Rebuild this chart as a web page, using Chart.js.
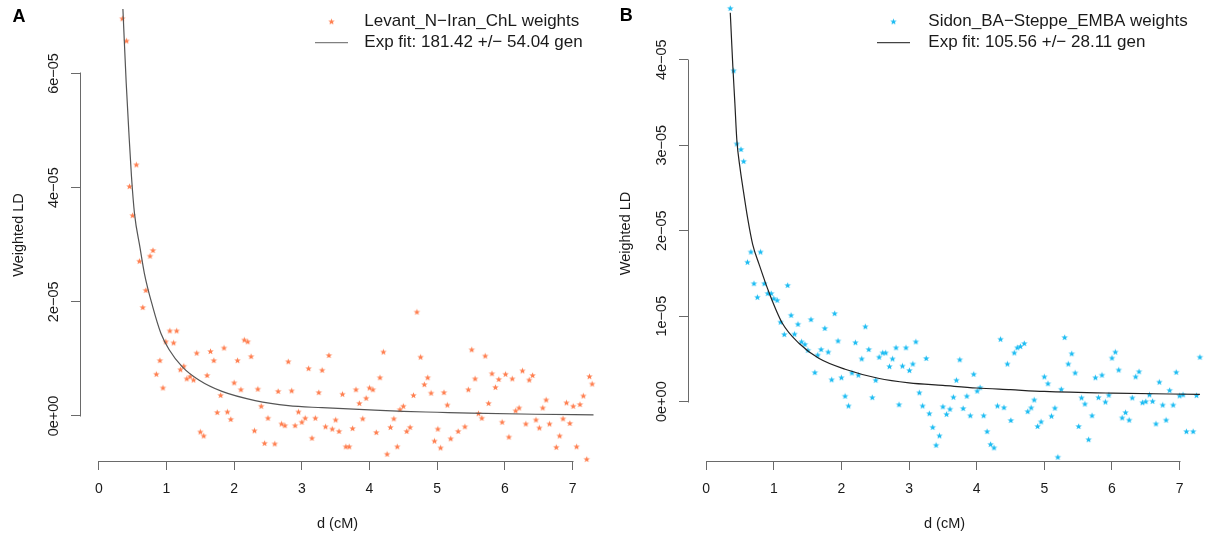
<!DOCTYPE html>
<html><head><meta charset="utf-8">
<script src="https://cdn.jsdelivr.net/npm/chart.js@4.4.1/dist/chart.umd.min.js"></script>
<style>
html,body{margin:0;padding:0;background:#fff;}
#wrap{position:relative;width:1206px;height:537px;overflow:hidden;background:#fff;}
canvas{position:absolute;top:0;}
#cA{left:0;} #cB{left:600px;}
</style></head><body>
<div id="wrap"><canvas id="cA" width="600" height="537"></canvas><canvas id="cB" width="606" height="537"></canvas></div>
<script>
const FONT = "'Liberation Sans', Arial, Helvetica, sans-serif";

// ---- shared axis ticks ----
const xTicks = [0, 1, 2, 3, 4, 5, 6, 7];
const xTitle = 'd (cM)';
const yTitle = 'Weighted LD';

// ---- Panel A (values of weighted LD in units of 1e-05) ----
const yTicksA = [0, 2, 4, 6];
const yTickLabelsA = ['0e+00', '2e\u221205', '4e\u221205', '6e\u221205'];
const legendA = ['Levant_N\u2212Iran_ChL weights', 'Exp fit: 181.42 +/\u2212 54.04 gen'];
const xA = [0.348,0.41,0.555,0.454,0.499,0.60,0.80,0.757,0.695,0.65,
  1.05,1.15,0.99,1.105,0.903,0.85,0.948,1.256,1.206,1.30,
  1.35,1.40,1.447,1.50,1.55,1.60,1.65,1.70,1.75,1.80,
  1.85,1.90,1.95,2.00,2.05,2.10,2.15,2.20,2.25,2.30,
  2.35,2.40,2.45,2.50,2.60,2.65,2.70,2.75,2.80,2.85,
  2.90,2.95,3.00,3.05,3.10,3.15,3.20,3.25,3.30,3.35,
  3.40,3.45,3.50,3.55,3.60,3.65,3.70,3.75,3.80,3.85,
  3.90,3.95,4.00,4.05,4.10,4.155,4.205,4.26,4.31,4.36,
  4.41,4.45,4.50,4.55,4.60,4.65,4.70,4.755,4.81,4.86,
  4.91,4.96,5.01,5.05,5.10,5.15,5.20,5.31,5.41,5.46,
  5.51,5.56,5.61,5.66,5.71,5.76,5.81,5.86,5.91,5.96,
  6.01,6.06,6.11,6.16,6.21,6.26,6.31,6.36,6.41,6.46,
  6.51,6.56,6.61,6.66,6.76,6.81,6.86,6.91,6.96,7.01,
  7.06,7.11,7.16,7.21,7.25,7.29];
const yA = [6.96,6.57,4.40,4.02,3.51,2.71,2.90,2.80,2.20,1.90,
  1.49,1.49,1.30,1.28,0.97,0.73,0.49,0.87,0.81,0.65,
  0.69,0.63,1.10,-0.28,-0.35,0.71,1.13,0.97,0.06,0.36,
  1.19,0.07,-0.06,0.58,0.97,0.46,1.33,1.30,1.04,-0.26,
  0.47,0.17,-0.48,-0.04,-0.49,0.43,-0.14,-0.17,0.95,0.44,
  -0.17,0.07,-0.11,-0.04,0.83,-0.39,-0.04,0.41,0.80,-0.19,
  1.06,-0.23,-0.07,-0.27,0.38,-0.54,-0.54,-0.22,0.46,0.22,
  -0.05,0.31,0.49,0.46,-0.29,0.67,1.12,-0.67,-0.20,-0.05,
  -0.54,0.11,0.17,-0.27,-0.20,0.36,1.82,1.03,0.55,0.67,
  0.40,-0.44,-0.23,-0.56,0.41,0.19,-0.40,-0.27,-0.19,0.46,
  1.16,0.65,0.04,-0.04,1.05,0.22,0.74,0.50,0.64,-0.11,
  0.73,-0.37,0.65,0.09,0.14,0.79,-0.14,0.63,0.71,-0.07,
  -0.21,0.14,0.28,-0.14,-0.55,-0.35,-0.05,0.23,-0.13,0.17,
  -0.54,0.20,0.35,-0.76,0.69,0.56];
const fitXA = [0.356,0.376,0.405,0.444,0.483,0.527,0.61,0.673,0.795,0.917,1.04,1.234,1.478,1.82,2.31,2.80,3.3,4.0,4.5,5.0,5.5,6.45,7.31];
const fitYA = [7.13,6.59,5.83,4.97,4.19,3.55,2.94,2.50,1.92,1.45,1.16,0.86,0.63,0.43,0.27,0.18,0.145,0.105,0.08,0.065,0.05,0.03,0.02];

// ---- Panel B ----
const yTicksB = [0, 1, 2, 3, 4];
const yTickLabelsB = ['0e+00', '1e\u221205', '2e\u221205', '3e\u221205', '4e\u221205'];
const legendB = ['Sidon_BA\u2212Steppe_EMBA weights', 'Exp fit: 105.56 +/\u2212 28.11 gen'];
const xB = [0.357,0.407,0.453,0.515,0.555,0.611,0.662,0.804,0.707,0.86,
  0.758,0.911,0.962,1.00,1.05,1.205,1.10,1.256,1.155,1.307,
  1.358,1.41,1.46,1.505,1.55,1.607,1.65,1.70,1.755,1.805,
  1.856,1.90,1.95,2.00,2.054,2.105,2.156,2.207,2.25,2.30,
  2.354,2.405,2.456,2.507,2.558,2.61,2.654,2.71,2.756,2.807,
  2.852,2.903,2.954,3.005,3.056,3.10,3.152,3.20,3.254,3.30,
  3.35,3.40,3.45,3.50,3.554,3.605,3.656,3.70,3.75,3.80,
  3.854,3.905,3.956,4.007,4.05,4.103,4.154,4.205,4.256,4.307,
  4.352,4.403,4.454,4.505,4.556,4.60,4.646,4.703,4.754,4.805,
  4.85,4.90,4.952,5.00,5.054,5.105,5.156,5.20,5.25,5.30,
  5.354,5.405,5.456,5.507,5.55,5.60,5.654,5.705,5.755,5.80,
  5.852,5.903,5.954,6.00,6.05,6.10,6.15,6.20,6.254,6.30,
  6.35,6.40,6.45,6.50,6.554,6.60,6.65,6.70,6.75,6.80,
  6.853,6.904,6.95,7.00,7.05,7.10,7.20,7.25,7.30];
const yB = [4.60,3.87,3.015,2.95,2.81,1.63,1.75,1.75,1.38,1.38,
  1.22,1.265,1.265,1.205,1.185,1.36,0.93,1.01,0.785,0.79,
  0.905,0.70,0.67,0.60,0.96,0.34,0.545,0.61,0.857,0.58,
  0.256,1.03,0.71,0.28,0.064,-0.05,0.336,0.69,0.31,0.50,
  0.877,0.61,0.048,0.25,0.52,0.57,0.57,0.41,0.50,0.63,
  -0.036,0.416,0.63,0.364,0.44,0.70,0.104,-0.05,0.505,-0.14,
  -0.30,-0.51,-0.40,-0.06,-0.148,-0.088,0.052,0.25,0.49,-0.08,
  0.064,-0.164,0.32,0.124,0.164,-0.164,-0.35,-0.50,-0.54,-0.05,
  0.73,-0.07,0.44,-0.22,0.57,0.63,0.645,0.68,-0.116,-0.072,
  0.02,-0.29,-0.236,0.29,0.21,-0.17,-0.076,-0.65,0.144,0.75,
  0.44,0.56,0.336,-0.29,0.044,-0.028,-0.444,-0.164,0.28,0.048,
  0.31,-0.004,0.076,0.51,0.58,0.37,-0.19,-0.128,-0.216,0.044,
  0.29,0.35,-0.012,0.0,0.08,0.004,-0.26,0.228,-0.04,-0.216,
  0.132,-0.04,0.344,0.068,0.08,-0.35,-0.35,0.072,0.52];
const fitXB = [0.357,0.376,0.395,0.425,0.454,0.50,0.542,0.615,0.688,0.786,0.933,1.127,1.372,1.665,2.055,2.543,3.0,3.5,4.0,4.5,5.0,6.0,7.3];
const fitYB = [4.55,4.23,3.92,3.49,3.06,2.74,2.51,2.14,1.84,1.60,1.27,0.917,0.683,0.507,0.379,0.274,0.22,0.19,0.16,0.14,0.12,0.10,0.085];

// ---- star marker (R pch="*") ----
function makeStar(color) {
  const c = document.createElement('canvas');
  c.width = 9; c.height = 9;
  const g = c.getContext('2d');
  g.fillStyle = color;
  g.beginPath();
  for (let i = 0; i < 10; i++) {
    const r = i % 2 === 0 ? 3.4 : 1.45;
    const a = -Math.PI / 2 + i * Math.PI / 5;
    const px = 4.5 + r * Math.cos(a), py = 4.6 + r * Math.sin(a);
    if (i === 0) g.moveTo(px, py); else g.lineTo(px, py);
  }
  g.closePath(); g.fill();
  return c;
}

const rAxesPlugin = {
  id: 'rAxes',
  afterDraw(chart, args, o) {
    const {ctx, chartArea, scales: {x, y}} = chart;
    ctx.save();
    ctx.strokeStyle = o.axisColor; ctx.lineWidth = 1;
    // x axis line from first to last tick (R style)
    const yb = Math.round(chartArea.bottom - 0.5) + 0.5;
    ctx.beginPath();
    ctx.moveTo(Math.round(x.getPixelForValue(o.xTicks[0])) + 0.5 - 0.5, yb);
    ctx.lineTo(Math.round(x.getPixelForValue(o.xTicks[o.xTicks.length - 1])) + 0.5, yb);
    ctx.stroke();
    // y axis line
    const xl = Math.round(chartArea.left - 0.5) + 0.5;
    ctx.beginPath();
    ctx.moveTo(xl, Math.round(y.getPixelForValue(o.yTicks[0])) + 0.5);
    ctx.lineTo(xl, Math.round(y.getPixelForValue(o.yTicks[o.yTicks.length - 1])) - 0.5);
    ctx.stroke();
    // rotated y tick labels
    ctx.fillStyle = o.textColor;
    ctx.font = o.tickFont;
    ctx.textAlign = 'center'; ctx.textBaseline = 'middle';
    o.yTicks.forEach((v, i) => {
      ctx.save();
      ctx.translate(chartArea.left - o.yLabelOffset, y.getPixelForValue(v));
      ctx.rotate(-Math.PI / 2);
      ctx.fillText(o.yTickLabels[i], 0, 0);
      ctx.restore();
    });
    // panel letter
    ctx.font = o.letterFont;
    ctx.fillStyle = '#000';
    ctx.fillText(o.letter, o.letterPos[0], o.letterPos[1]);
    // legend
    const L = o.legend;
    ctx.font = L.font; ctx.textAlign = 'left'; ctx.fillStyle = o.textColor;
    ctx.drawImage(L.marker, L.symX - L.marker.width / 2, L.rows[0] - L.marker.height / 2);
    ctx.strokeStyle = L.lineColor; ctx.lineWidth = 1.2;
    ctx.beginPath(); ctx.moveTo(L.symX - L.lineHalf, L.rows[1]); ctx.lineTo(L.symX + L.lineHalf, L.rows[1]); ctx.stroke();
    L.texts.forEach((t, i) => ctx.fillText(t, L.textX, L.rows[i]));
    ctx.restore();
  }
};

function buildChart(canvasId, cfg) {
  const star = makeStar(cfg.pointColor);
  const points = cfg.xs.map((v, i) => ({x: v, y: cfg.ys[i]}));
  const fit = cfg.fitX.map((v, i) => ({x: v, y: cfg.fitY[i]}));
  return new Chart(document.getElementById(canvasId), {
    type: 'scatter',
    data: {
      datasets: [
        {label: cfg.legend[1], data: fit, showLine: true, pointRadius: 0, borderColor: cfg.lineColor,
         borderWidth: 1.2, cubicInterpolationMode: 'monotone', fill: false},
        {label: cfg.legend[0], data: points, pointStyle: star, pointRadius: 4, clip: false, showLine: false}
      ]
    },
    options: {
      responsive: false, animation: false, events: [],
      layout: {padding: {left: 0, right: 0, top: cfg.top, bottom: 0}},
      plugins: {
        legend: {display: false}, tooltip: {enabled: false},
        rAxes: {
          axisColor: '#6a6a6a', textColor: '#1a1a1a',
          xTicks: xTicks, yTicks: cfg.yTicks, yTickLabels: cfg.yTickLabels,
          tickFont: '14.5px ' + FONT, yLabelOffset: 25.7,
          letter: cfg.letter, letterPos: cfg.letterPos, letterFont: 'bold 18px ' + FONT,
          legend: {font: '17px ' + FONT, marker: star, symX: cfg.legSymX, lineHalf: 16.5,
                   rows: [21.7, 42.7], textX: cfg.legTextX, texts: cfg.legend, lineColor: cfg.legLineColor}
        }
      },
      scales: {
        x: {
          type: 'linear', position: 'bottom', min: cfg.xmin, max: cfg.xmax,
          afterBuildTicks: s => { s.ticks = xTicks.map(v => ({value: v})); },
          afterFit: s => { s.height = 76; },
          border: {display: false},
          grid: {drawOnChartArea: false, drawTicks: true, tickLength: 9, color: '#6a6a6a', lineWidth: 1},
          ticks: {font: {family: FONT, size: 14}, color: '#1a1a1a', padding: 10.8, maxRotation: 0,
                  callback: v => String(v)},
          title: {display: true, text: xTitle, font: {family: FONT, size: 14.5}, color: '#1a1a1a',
                  padding: {top: 0, bottom: 4.3}}
        },
        y: {
          type: 'linear', position: 'left', min: cfg.ymin, max: cfg.ymax,
          afterBuildTicks: s => { s.ticks = cfg.yTicks.map(v => ({value: v})); },
          afterFit: s => { s.width = cfg.yAxisWidth; },
          border: {display: false},
          grid: {drawOnChartArea: false, drawTicks: true, tickLength: 9, color: '#6a6a6a', lineWidth: 1},
          ticks: {display: false},
          title: {display: true, text: yTitle, font: {family: FONT, size: 14.5}, color: '#1a1a1a',
                  padding: {top: cfg.yTitlePad, bottom: 0}}
        }
      }
    },
    plugins: [rAxesPlugin]
  });
}

buildChart('cA', {
  xs: xA, ys: yA, fitX: fitXA, fitY: fitYA, yTicks: yTicksA, yTickLabels: yTickLabelsA, legend: legendA,
  pointColor: '#ff7f50', lineColor: '#555555', legLineColor: '#808080',
  xmin: -0.278, xmax: 7.332, ymin: -0.789, ymax: 7.13, top: 9, yAxisWidth: 80, yTitlePad: 10.3,
  letter: 'A', letterPos: [19, 17], legSymX: 331.5, legTextX: 364.3
});
buildChart('cB', {
  xs: xB, ys: yB, fitX: fitXB, fitY: fitYB, yTicks: yTicksB, yTickLabels: yTickLabelsB, legend: legendB,
  pointColor: '#1cbcf2', lineColor: '#222222', legLineColor: '#444444',
  xmin: -0.268, xmax: 7.316, ymin: -0.694, ymax: 4.628, top: 6, yAxisWidth: 88, yTitlePad: 16.8,
  letter: 'B', letterPos: [26.3, 16.5], legSymX: 293.5, legTextX: 328.3
});
</script>
</body></html>
